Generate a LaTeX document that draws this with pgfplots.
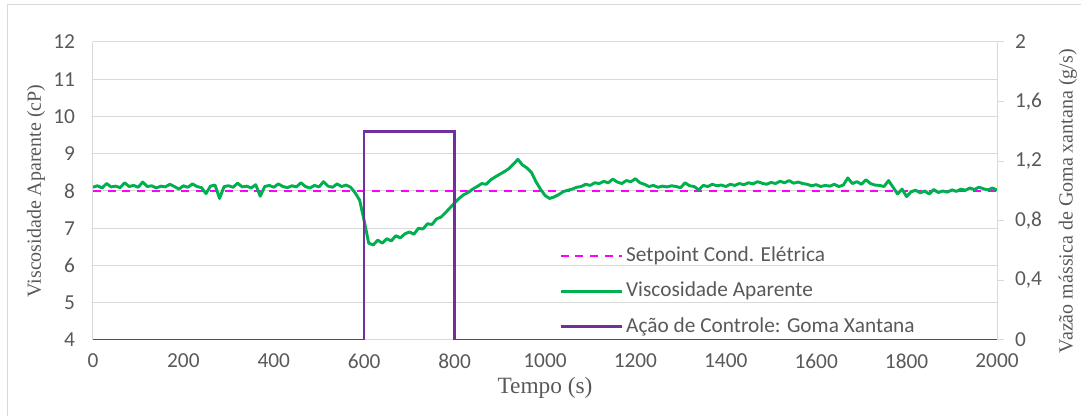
\documentclass[border=0pt]{standalone}
\usepackage{fontspec}
\setmainfont{Liberation Serif}
\newfontfamily\carlito{Carlito}
\usepackage{pgfplots}
\usepackage{pgfplotstable}
\pgfplotsset{compat=1.18}
\definecolor{txtgray}{HTML}{595959}
\definecolor{gridgray}{HTML}{D9D9D9}
\definecolor{vgreen}{HTML}{00B050}
\definecolor{vpurple}{HTML}{7030A0}
\definecolor{vmag}{HTML}{FF00FF}

\pgfplotstableread[row sep=\\]{
t v\\
0 8.10\\ 10 8.14\\ 20 8.08\\ 30 8.20\\ 40 8.11\\ 50 8.13\\ 60 8.09\\ 70 8.22\\ 80 8.12\\ 90 8.15\\
100 8.10\\ 110 8.24\\ 120 8.12\\ 130 8.14\\ 140 8.08\\ 150 8.13\\ 160 8.11\\ 170 8.18\\ 180 8.12\\ 190 8.05\\
200 8.14\\ 210 8.10\\ 220 8.19\\ 230 8.12\\ 240 8.09\\ 250 7.93\\ 260 8.13\\ 270 8.16\\ 280 7.80\\ 290 8.12\\
300 8.14\\ 310 8.10\\ 320 8.21\\ 330 8.11\\ 340 8.13\\ 350 8.08\\ 360 8.17\\ 370 7.86\\ 380 8.12\\ 390 8.15\\
400 8.10\\ 410 8.19\\ 420 8.12\\ 430 8.09\\ 440 8.14\\ 450 8.11\\ 460 8.22\\ 470 8.12\\ 480 8.08\\ 490 8.15\\
500 8.11\\ 510 8.25\\ 520 8.13\\ 530 8.10\\ 540 8.19\\ 550 8.12\\ 560 8.16\\ 570 8.10\\ 580 7.95\\ 590 7.75\\
600 7.20\\ 610 6.60\\ 620 6.55\\ 630 6.68\\ 640 6.60\\ 650 6.72\\ 660 6.66\\ 670 6.80\\ 680 6.74\\ 690 6.85\\
700 6.90\\ 710 6.84\\ 720 7.00\\ 730 6.98\\ 740 7.12\\ 750 7.10\\ 760 7.25\\ 770 7.30\\ 780 7.42\\ 790 7.55\\
800 7.68\\ 810 7.80\\ 820 7.90\\ 830 7.96\\ 840 8.05\\ 850 8.12\\ 860 8.20\\ 870 8.18\\ 880 8.30\\ 890 8.38\\
900 8.45\\ 910 8.52\\ 920 8.60\\ 930 8.72\\ 940 8.85\\ 950 8.70\\ 960 8.62\\ 970 8.50\\ 980 8.25\\ 990 8.05\\
1000 7.88\\ 1010 7.80\\ 1020 7.84\\ 1030 7.90\\ 1040 7.98\\ 1050 8.02\\ 1060 8.05\\ 1070 8.10\\ 1080 8.12\\ 1090 8.18\\
1100 8.15\\ 1110 8.22\\ 1120 8.20\\ 1130 8.26\\ 1140 8.22\\ 1150 8.32\\ 1160 8.24\\ 1170 8.20\\ 1180 8.28\\ 1190 8.25\\
1200 8.33\\ 1210 8.22\\ 1220 8.18\\ 1230 8.12\\ 1240 8.15\\ 1250 8.10\\ 1260 8.13\\ 1270 8.11\\ 1280 8.14\\ 1290 8.12\\
1300 8.09\\ 1310 8.22\\ 1320 8.14\\ 1330 8.12\\ 1340 8.03\\ 1350 8.15\\ 1360 8.12\\ 1370 8.18\\ 1380 8.14\\ 1390 8.16\\
1400 8.12\\ 1410 8.18\\ 1420 8.15\\ 1430 8.20\\ 1440 8.17\\ 1450 8.22\\ 1460 8.19\\ 1470 8.25\\ 1480 8.21\\ 1490 8.18\\
1500 8.23\\ 1510 8.20\\ 1520 8.26\\ 1530 8.22\\ 1540 8.28\\ 1550 8.21\\ 1560 8.24\\ 1570 8.20\\ 1580 8.18\\ 1590 8.14\\
1600 8.17\\ 1610 8.12\\ 1620 8.15\\ 1630 8.13\\ 1640 8.18\\ 1650 8.12\\ 1660 8.16\\ 1670 8.35\\ 1680 8.20\\ 1690 8.25\\
1700 8.18\\ 1710 8.30\\ 1720 8.20\\ 1730 8.16\\ 1740 8.15\\ 1750 8.12\\ 1760 8.28\\ 1770 8.10\\ 1780 7.92\\ 1790 8.05\\
1800 7.85\\ 1810 7.98\\ 1820 8.02\\ 1830 7.95\\ 1840 8.00\\ 1850 7.92\\ 1860 8.04\\ 1870 7.96\\ 1880 8.00\\ 1890 7.97\\
1900 8.03\\ 1910 7.99\\ 1920 8.05\\ 1930 8.02\\ 1940 8.08\\ 1950 8.04\\ 1960 8.10\\ 1970 8.06\\ 1980 8.03\\ 1990 8.08\\
2000 8.02\\
}\viscdata

\begin{document}
\begin{tikzpicture}
\useasboundingbox (-69.75pt,-57pt) rectangle (741pt,255pt);
\draw[gridgray, line width=0.75pt] (-63.75pt,-60pt) -- (-63.75pt,251.25pt) -- (745pt,251.25pt);
\pgfplotsset{
  every axis/.append style={
    scale only axis, width=678pt, height=223.5pt, xmin=0, xmax=2000,
    ticklabel style={font=\carlito\fontsize{16}{19}\selectfont, text=txtgray},
    /pgf/number format/assume math mode=true,
    label style={font=\fontsize{15}{18}\selectfont, text=txtgray},
  }
}
\begin{axis}[
  ymin=4, ymax=12, ytick={4,5,6,7,8,9,10,11,12},
  xtick={0,200,...,2000},
  axis x line*=bottom, axis y line*=left,
  axis line style={draw=gridgray, line width=0.75pt, -},
  major tick length=0pt,
  ymajorgrids, grid style={draw=gridgray, line width=0.75pt},
  yticklabel style={xshift=-10pt},
  xticklabel style={yshift=-7pt, /pgf/number format/set thousands separator={}},
  xlabel={Tempo (s)}, ylabel={Viscosidade Aparente (cP)},
  xlabel style={at={(axis description cs:0.5,-0.1611)}, anchor=center, font=\fontsize{17.5}{20}\selectfont},
  ylabel style={at={(axis description cs:-0.0631,0.5)}, anchor=center},
]
\addplot[vmag, line width=1.5pt, dash pattern=on 6pt off 5pt] coordinates {(0,8) (2000,8)};
\addplot[vgreen, line width=2.2pt, line join=round] table[x=t, y=v] {\viscdata};
\end{axis}
\begin{axis}[
  ymin=0, ymax=2, ytick={0,0.4,0.8,1.2,1.6,2},
  axis y line*=right, axis x line=none, xtick=\empty,
  axis line style={draw=gridgray, line width=0.75pt, -},
  tick style={draw=gridgray, line width=0.75pt},
  tick align=outside, major tick length=5pt,
  yticklabel style={/pgf/number format/use comma, /pgf/number format/fixed, /pgf/number format/precision=1, xshift=5pt},
  ylabel={Vazão mássica de Goma xantana (g/s)},
  ylabel style={at={(axis description cs:1.0782,0.466)}, anchor=center},
  legend style={at={(axis description cs:0.511,0.3356)}, anchor=north west, draw=none, fill=none,
    font=\carlito\fontsize{16}{19}\selectfont, text=txtgray, row sep=7pt,
    nodes={text height=12pt, text depth=3.5pt, inner sep=2pt}},
  legend cell align=left,
  legend image code/.code={\draw[#1] (0pt,0pt) -- (46pt,0pt);},
]
\addlegendimage{vmag, line width=1.5pt, dash pattern=on 6pt off 5pt}
\addlegendentry{Setpoint Cond. Elétrica}
\addlegendimage{vgreen, line width=2.2pt}
\addlegendentry{Viscosidade Aparente}
\addplot[vpurple, line width=1.9pt] coordinates {(0,0) (600,0) (600,1.4) (800,1.4) (800,0) (2000,0)};
\addlegendentry{Ação de Controle: Goma Xantana}
\end{axis}
\end{tikzpicture}
\end{document}
